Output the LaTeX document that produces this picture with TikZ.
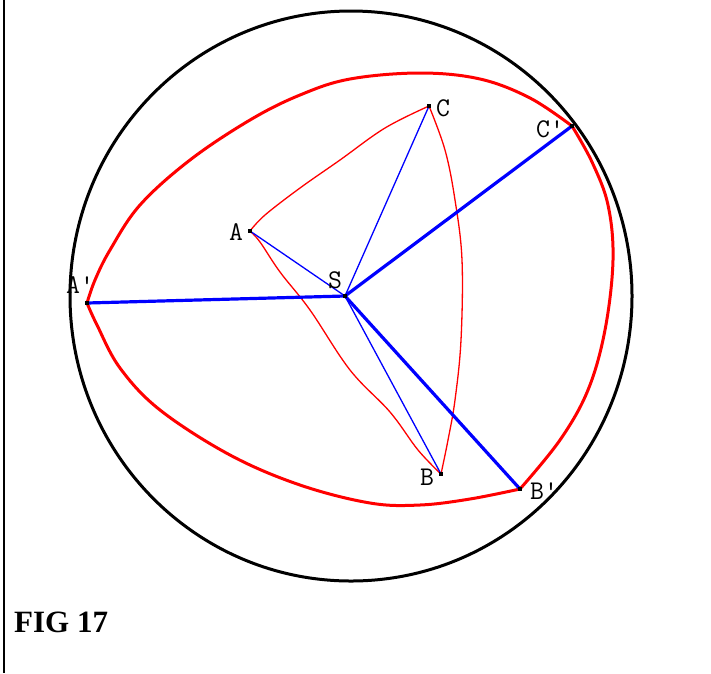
\documentclass[tikz,border=0pt]{standalone}
\usepackage{fontspec}
\newfontfamily\seriff{Liberation Serif}
\begin{document}
\begin{tikzpicture}[x=1pt,y=-1pt,
  lbl/.style={font=\ttfamily\fontsize{27}{27}\selectfont, inner sep=1pt},
  pt/.style={fill=black, minimum size=4pt, inner sep=0pt, draw=none},
  thinblue/.style={blue, line width=1.3pt},
  thickblue/.style={blue, line width=3.2pt},
  thinred/.style={red, line width=1.3pt, line join=round},
  thickred/.style={red, line width=3pt, line join=round},
  blackc/.style={black, line width=3pt}]
\useasboundingbox (0,0) rectangle (711,673);
\draw[line width=1.8pt] (4,0) -- (4,673);
% outer circle
\node[draw=none, inner sep=0pt] (O) at (351,296) {};
\draw[blackc] (O) ellipse [x radius=281pt, y radius=285pt];
% points
\node[pt] (S) at (345,296) {};
\node[pt] (A) at (250,231) {};
\node[pt] (B) at (441,474) {};
\node[pt] (C) at (429,106) {};
\node[pt] (Ap) at (87,303) {};
\node[pt] (Bp) at (520,489) {};
\node[pt] (Cp) at (572,126) {};
% thick red curve
\draw[thickred] plot[smooth, tension=0.6] coordinates {(87,303) (95,280) (110,250) (140,205) (190,160) (250,120) (300,95) (350,79) (420,73) (480,79) (530,98) (572,126)};
\draw[thickred] plot[smooth, tension=0.6] coordinates {(572,126) (592,162) (608,205) (613,260) (605,330) (588,390) (560,440) (520,489)};
\draw[thickred] plot[smooth, tension=0.6] coordinates {(520,489) (470,499) (420,505) (370,503) (300,485) (230,455) (160,410) (120,368) (97,325) (87,303)};
% thin red curve
\draw[thinred] plot[smooth, tension=0.6] coordinates {(250,231) (265,215) (300,188) (340,160) (385,128) (429,106)};
\draw[thinred] plot[smooth, tension=0.6] coordinates {(429,106) (445,150) (455,200) (462,260) (461,340) (455,400) (448,440) (441,474)};
\draw[thinred] plot[smooth, tension=0.6] coordinates {(441,474) (418,450) (390,412) (350,370) (310,310) (280,272) (260,242) (250,231)};
% blue lines
\draw[thinblue] (S.center) -- (A.center);
\draw[thinblue] (S.center) -- (B.center);
\draw[thinblue] (S.center) -- (C.center);
\draw[thickblue] (S.center) -- (Ap.center);
\draw[thickblue] (S.center) -- (Bp.center);
\draw[thickblue] (S.center) -- (Cp.center);
% redraw points on top
\foreach \p in {S,A,B,C,Ap,Bp,Cp} \fill (\p) +(-2,-2) rectangle +(2,2);
% labels
\node[lbl] (lA) at (236,232) {A};
\node[lbl] (lS) at (335,280) {S};
\node[lbl] (lC) at (443,108) {C};
\node[lbl] (lCp) at (550,129) {C'};
\node[lbl] (lB) at (427,477) {B};
\node[lbl] (lBp) at (544,491) {B'};
\node[lbl] (lAp) at (80,285) {A'};
\node[font=\seriff\bfseries\fontsize{31}{31}\selectfont, anchor=west, inner sep=0pt] (fig) at (14,622) {FIG 17};
\end{tikzpicture}
\end{document}
